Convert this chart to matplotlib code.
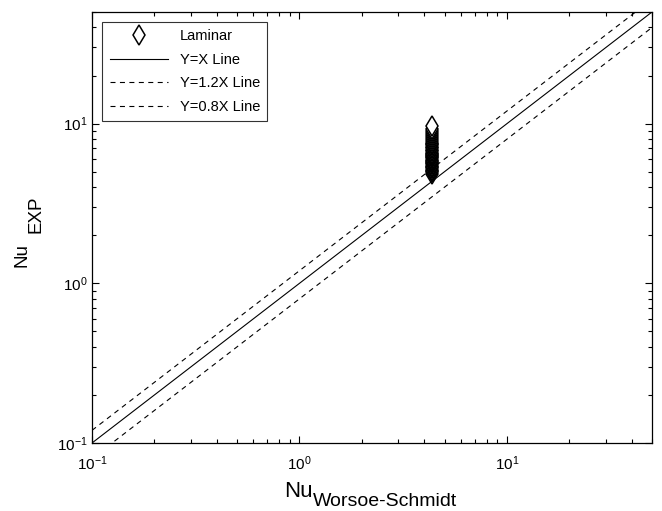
import numpy as np
import matplotlib.pyplot as plt
from matplotlib.ticker import LogLocator, NullFormatter

# laminar data points (Nu_Worsoe-Schmidt, Nu_EXP)
nu_exp = [4.85, 4.95, 5.05, 5.15, 5.25, 5.35, 5.45, 5.55, 5.65, 5.75,
          5.85, 5.95, 6.05, 6.15, 6.25, 6.35, 6.45, 6.55, 6.7, 6.85,
          7.0, 7.15, 7.3, 7.45, 7.6, 7.8, 8.0, 8.2, 8.45, 8.7,
          9.0, 9.3, 9.65]
nu_ws = [4.36] * len(nu_exp)

# reference lines
line_x = [0.1, 50]
ratios = [1.0, 1.2, 0.8]
line_labels = ['Y=X Line', 'Y=1.2X Line', 'Y=0.8X Line']

plt.rcParams['font.family'] = ['Liberation Sans', 'DejaVu Sans']

W, H = 662, 511
fig = plt.figure(figsize=(W / 100, H / 100), dpi=100)
ax = fig.add_axes([92 / W, 1 - 443 / H, (652 - 92) / W, (443 - 12) / H])

ax.plot(nu_ws, nu_exp, linestyle='none', marker='d', markersize=10,
        markerfacecolor='white', markeredgecolor='black', markeredgewidth=1.1,
        label='Laminar')
for r, lab in zip(ratios, line_labels):
    ys = [r * x for x in line_x]
    if r == 1.0:
        ax.plot(line_x, ys, color='black', linewidth=0.8, label=lab)
    else:
        ax.plot(line_x, ys, color='black', linewidth=0.8,
                dashes=(4.5, 4), label=lab)

ax.set_xscale('log')
ax.set_yscale('log')
ax.set_xlim(0.1, 50)
ax.set_ylim(0.1, 50)

for axis in (ax.xaxis, ax.yaxis):
    axis.set_major_locator(LogLocator(base=10, numticks=10))
    axis.set_minor_locator(LogLocator(base=10, subs=np.arange(2, 10), numticks=10))
    axis.set_minor_formatter(NullFormatter())
ax.tick_params(which='both', direction='in', top=True, right=True,
               labelsize=11, width=0.8)
ax.tick_params(which='major', length=5)
ax.tick_params(which='minor', length=3)
ax.tick_params(axis='x', pad=8)
ax.tick_params(axis='y', pad=3)
for s in ax.spines.values():
    s.set_linewidth(0.9)

# axis labels: large "Nu" with a subscript
fig.text(284 / W, 1 - 497 / H, 'Nu', fontsize=16, ha='left', va='baseline')
fig.text(313 / W, 1 - 506 / H, 'Worsoe-Schmidt', fontsize=14,
         ha='left', va='baseline')
fig.text(22 / W, 1 - 255 / H, 'Nu', fontsize=13.5, rotation=90,
         ha='center', va='center')
fig.text(36 / W, 1 - 214 / H, 'EXP', fontsize=13.5, rotation=90,
         ha='center', va='center')

leg = ax.legend(loc='upper left', fontsize=10.5, frameon=True, fancybox=False,
                edgecolor='black', borderpad=0.5, handlelength=4.0,
                labelspacing=0.65, borderaxespad=0.7)
leg.get_frame().set_linewidth(0.8)

fig.savefig('out.png', dpi=100)
